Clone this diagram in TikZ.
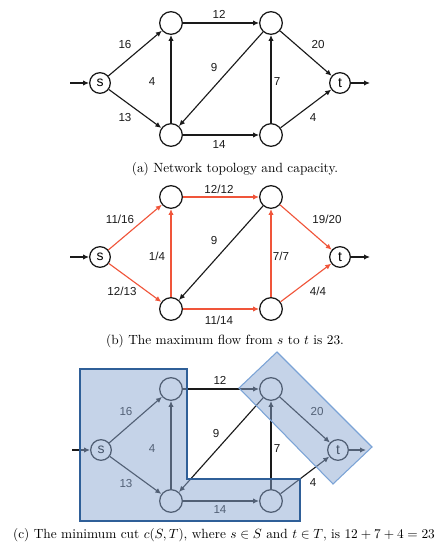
\documentclass[tikz,border=0pt]{standalone}
\usepackage{amsmath,amssymb}
\usepackage{fontspec}
\usepackage{xcolor}
\usetikzlibrary{arrows.meta}
\newfontfamily\netfont{Liberation Sans}
\definecolor{netdark}{HTML}{1A1A1A}
\definecolor{flowred}{HTML}{F0553A}
\definecolor{cutfill}{HTML}{8BA7D1}
\definecolor{cutdark}{HTML}{2F5F98}
\definecolor{cutlight}{HTML}{7BA3D6}

\begin{document}
\begin{tikzpicture}[
    x=0.75pt, y=-0.75pt,
    vert/.style={circle, draw=netdark, line width=0.95pt, minimum size=17pt, inner sep=0pt},
    term/.style={vert, minimum size=15.5pt, font=\netfont\fontsize{10.5}{12}\selectfont},
    edge/.style={draw=netdark, line width=0.85pt, -{Latex[length=4.5pt,width=4pt]}},
    flow/.style={edge, draw=flowred},
    lbl/.style={font=\netfont\fontsize{8.7}{10}\selectfont, text=netdark},
    captxt/.style={font=\fontsize{10}{12}\selectfont},
    cutS/.style={fill=cutfill, fill opacity=0.5, draw=cutdark, line width=0.8pt},
    cutT/.style={fill=cutfill, fill opacity=0.5, draw=cutlight, line width=0.8pt},
  ]

  \useasboundingbox (0,0) rectangle (442,543);

  % ---------- (a) capacities
  \begin{scope}[shift={(0,0)}]
    \node[term] (s1) at (100,83) {s};
    \node[vert] (ul1) at (171,23) {};
    \node[vert] (ur1) at (271,23) {};
    \node[vert] (ll1) at (171,135) {};
    \node[vert] (lr1) at (271,135) {};
    \node[term] (t1) at (340,83) {t};
    \coordinate (in1) at (70,83);
    \coordinate (out1) at (370,83);
    \draw[edge] (in1) -- (s1);
    \draw[edge] (t1) -- (out1);
    \draw[edge] (s1) -- (ul1);
    \draw[edge] (s1) -- (ll1);
    \draw[edge] (ul1) -- (ur1);
    \draw[edge] (ll1) -- (ul1);
    \draw[edge] (ur1) -- (ll1);
    \draw[edge] (ll1) -- (lr1);
    \draw[edge] (lr1) -- (ur1);
    \draw[edge] (ur1) -- (t1);
    \draw[edge] (lr1) -- (t1);
    \node[lbl] (c12a) at (219,14) {12};
    \node[lbl] (c16a) at (125,45) {16};
    \node[lbl] (c20a) at (318,45) {20};
    \node[lbl] (c9a) at (214,68) {9};
    \node[lbl] (c4a) at (152,82) {4};
    \node[lbl] (c7a) at (277,82) {7};
    \node[lbl] (c13a) at (125,118) {13};
    \node[lbl] (c4ta) at (313,118) {4};
    \node[lbl] (c14a) at (219,145) {14};
    \node[captxt] (capa) at (235,169) {(a) Network topology and capacity.};
  \end{scope}

  % ---------- (b) maximum flow
  \begin{scope}[shift={(0,174)}]
    \node[term] (s2) at (100,83) {s};
    \node[vert] (ul2) at (171,23) {};
    \node[vert] (ur2) at (271,23) {};
    \node[vert] (ll2) at (171,135) {};
    \node[vert] (lr2) at (271,135) {};
    \node[term] (t2) at (340,83) {t};
    \coordinate (in2) at (70,83);
    \coordinate (out2) at (370,83);
    \draw[edge] (in2) -- (s2);
    \draw[edge] (t2) -- (out2);
    \draw[flow] (s2) -- (ul2);
    \draw[flow] (s2) -- (ll2);
    \draw[flow] (ul2) -- (ur2);
    \draw[flow] (ll2) -- (ul2);
    \draw[edge] (ur2) -- (ll2);
    \draw[flow] (ll2) -- (lr2);
    \draw[flow] (lr2) -- (ur2);
    \draw[flow] (ur2) -- (t2);
    \draw[flow] (lr2) -- (t2);
    \node[lbl] (f12b) at (219,15) {12/12};
    \node[lbl] (f16b) at (120,45) {11/16};
    \node[lbl] (f20b) at (327,45) {19/20};
    \node[lbl] (f9b) at (214,67) {9};
    \node[lbl] (f4b) at (157,82) {1/4};
    \node[lbl] (f7b) at (281,82) {7/7};
    \node[lbl] (f13b) at (122,117) {12/13};
    \node[lbl] (f4tb) at (318,117) {4/4};
    \node[lbl] (f14b) at (219,146) {11/14};
    \node[captxt] (capb) at (225,167) {(b) The maximum flow from $s$ to $t$ is 23.};
  \end{scope}

  % ---------- (c) minimum cut
  \begin{scope}[shift={(0,366)}]
    \node[term] (s3) at (101,84) {s};
    \node[vert] (ul3) at (171,23) {};
    \node[vert] (ur3) at (271,23) {};
    \node[vert] (ll3) at (171,135) {};
    \node[vert] (lr3) at (271,135) {};
    \node[term] (t3) at (338,84) {t};
    \coordinate (in3) at (72,84);
    \coordinate (out3) at (366,84);
    \draw[edge] (in3) -- (s3);
    \draw[edge] (t3) -- (out3);
    \draw[edge] (s3) -- (ul3);
    \draw[edge] (s3) -- (ll3);
    \draw[edge] (ul3) -- (ur3);
    \draw[edge] (ll3) -- (ul3);
    \draw[edge] (ur3) -- (ll3);
    \draw[edge] (ll3) -- (lr3);
    \draw[edge] (lr3) -- (ur3);
    \draw[edge] (ur3) -- (t3);
    \draw[edge] (lr3) -- (t3);
    \node[lbl] (k12c) at (220,14) {12};
    \node[lbl] (k16c) at (126,46) {16};
    \node[lbl] (k20c) at (317,46) {20};
    \node[lbl] (k9c) at (216,68) {9};
    \node[lbl] (k4c) at (152,83) {4};
    \node[lbl] (k7c) at (277,83) {7};
    \node[lbl] (k13c) at (126,118) {13};
    \node[lbl] (k4tc) at (313,117) {4};
    \node[lbl] (k14c) at (220,144) {14};
    % the two sides of the cut
    \draw[cutS] (80,3) -- (187,3) -- (187,113) -- (300,113) -- (300,155) -- (80,155) -- cycle;
    \draw[cutT] (239,22) -- (277,-14) -- (372,81) -- (333,118) -- cycle;
    \node[captxt] (capc) at (224,169)
      {(c) The minimum cut $c(S,T)$, where $s\in S$ and $t\in T$, is $12+7+4=23$};
  \end{scope}

\end{tikzpicture}
\end{document}
